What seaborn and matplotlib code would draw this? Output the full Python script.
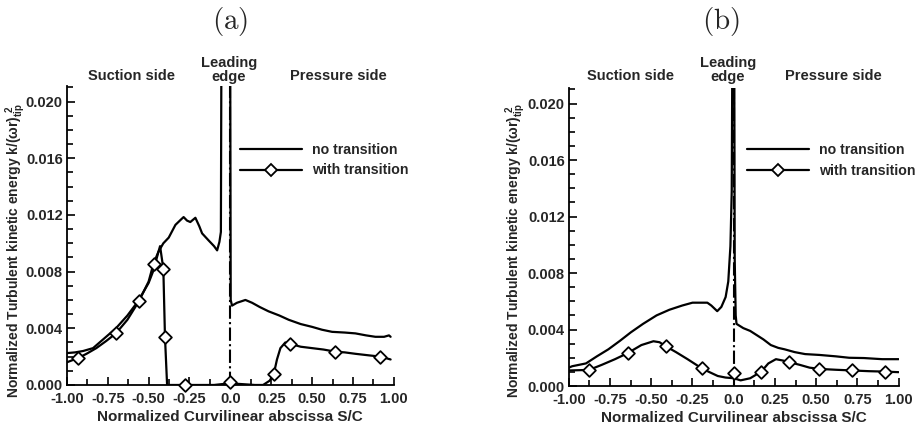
import pandas as pd
import matplotlib
matplotlib.use('Agg')
import matplotlib.pyplot as plt
import seaborn as sns
from matplotlib.lines import Line2D
from matplotlib.ticker import MultipleLocator, FormatStrFormatter

# ---- panel (a) ----
a_no_x = [-1.0, -0.95, -0.9, -0.84, -0.78, -0.70, -0.63, -0.565, -0.50, -0.47, -0.44, -0.41,
          -0.377, -0.336, -0.30, -0.286, -0.265, -0.245, -0.214, -0.19, -0.173, -0.133, -0.10,
          -0.081, -0.067, -0.058, -0.052, -0.003, 0.002, 0.01, 0.04, 0.092, 0.133, 0.18, 0.233,
          0.30, 0.357, 0.43, 0.5, 0.56, 0.622, 0.70, 0.765, 0.83, 0.887, 0.94, 0.97, 0.98]
a_no_y = [0.00225, 0.0023, 0.0024, 0.0026, 0.0032, 0.0040, 0.0049, 0.0059, 0.0072, 0.0081,
          0.0094, 0.0100, 0.0104, 0.0113, 0.0117, 0.01185, 0.0116, 0.0115, 0.0118, 0.0112,
          0.0107, 0.0102, 0.0098, 0.0095, 0.0101, 0.0108, 0.035, 0.035, 0.0060, 0.0056,
          0.0058, 0.0060, 0.0058, 0.0055, 0.0052, 0.0049, 0.0046, 0.0043, 0.0041, 0.0039,
          0.00375, 0.0037, 0.00364, 0.0035, 0.0034, 0.0034, 0.0035, 0.0034]

a_tr_x = [-1.0, -0.932, -0.88, -0.82, -0.76, -0.70, -0.63, -0.56, -0.50, -0.47, -0.44, -0.43,
          -0.42, -0.41, -0.40, -0.387, -0.275, -0.1, -0.02, 0.0, 0.02, 0.15, 0.2, 0.24, 0.265,
          0.285, 0.306, 0.336, 0.367, 0.43, 0.5, 0.57, 0.642, 0.70, 0.765, 0.84, 0.917, 0.95, 0.98]
a_tr_y = [0.00160, 0.0019, 0.0022, 0.0026, 0.0031, 0.00364, 0.0046, 0.0059, 0.0073, 0.00857,
          0.0094, 0.0098, 0.0090, 0.0082, 0.0034, 0.0, 0.0, 0.0, 0.0001, 0.0002, 0.0001, 0.0,
          0.0, 0.0003, 0.00075, 0.0018, 0.0026, 0.0030, 0.0029, 0.0027, 0.0026, 0.0025,
          0.00235, 0.0023, 0.0022, 0.0021, 0.0020, 0.0019, 0.0018]

a_mk_x = [-0.932, -0.70, -0.56, -0.47, -0.41, -0.40, -0.275, 0.0, 0.265, 0.367, 0.642, 0.917]
a_mk_y = [0.0019, 0.00364, 0.0059, 0.00857, 0.0082, 0.0034, 0.0, 0.0002, 0.00075, 0.0029,
          0.00235, 0.0020]

# ---- panel (b) ----
b_no_x = [-1.0, -0.98, -0.896, -0.83, -0.76, -0.69, -0.624, -0.55, -0.468, -0.39, -0.312,
          -0.25, -0.195, -0.16, -0.136, -0.10, -0.075, -0.049, -0.033, -0.02, -0.012, -0.006,
          0.002, 0.006, 0.012, 0.017, 0.058, 0.10, 0.14, 0.18, 0.225, 0.27, 0.308, 0.37,
          0.433, 0.52, 0.62, 0.70, 0.79, 0.9, 1.0]
b_no_y = [0.0013, 0.0014, 0.0016, 0.0021, 0.0026, 0.0032, 0.0038, 0.0044, 0.0050, 0.0054,
          0.0057, 0.0059, 0.0059, 0.0059, 0.0057, 0.0053, 0.0056, 0.0063, 0.0074, 0.0099,
          0.0138, 0.03, 0.03, 0.009, 0.0050, 0.0044, 0.0041, 0.0039, 0.0036, 0.0033, 0.0029,
          0.0027, 0.0026, 0.0024, 0.00226, 0.0022, 0.0021, 0.0020, 0.00198, 0.0019, 0.0019]

b_tr_x = [-1.0, -0.877, -0.80, -0.72, -0.643, -0.56, -0.487, -0.45, -0.41, -0.35, -0.28,
          -0.195, -0.15, -0.097, -0.05, 0.0, 0.042, 0.1, 0.167, 0.21, 0.256, 0.30, 0.333, 0.40,
          0.46, 0.52, 0.62, 0.72, 0.82, 0.917, 1.0]
b_tr_y = [0.0011, 0.00114, 0.0015, 0.0019, 0.00233, 0.0029, 0.00317, 0.0031, 0.0028, 0.0024,
          0.0019, 0.00126, 0.0010, 0.00071, 0.0006, 0.00055, 0.0004, 0.00055, 0.00102, 0.0016,
          0.0019, 0.0018, 0.0017, 0.0015, 0.0013, 0.00121, 0.00115, 0.0011, 0.00105, 0.00102,
          0.00098]

b_mk_x = [-0.877, -0.643, -0.41, -0.195, 0.0, 0.167, 0.333, 0.52, 0.72, 0.917]
b_mk_y = [0.00114, 0.00233, 0.0028, 0.00126, 0.0009, 0.00102, 0.0017, 0.00121, 0.0011, 0.00102]

xtick_vals = [-1.0, -0.75, -0.5, -0.25, 0.0, 0.25, 0.5, 0.75, 1.0]
xtick_labels = ['-1.00', '-0.75', '-0.50', '-0.25', '0.0', '0.25', '0.50', '0.75', '1.00']

sns.set_style('ticks')
plt.rcParams['font.family'] = ['Liberation Sans', 'DejaVu Sans']
plt.rcParams['font.weight'] = 'bold'
plt.rcParams['axes.labelweight'] = 'bold'
plt.rcParams['mathtext.fontset'] = 'custom'
plt.rcParams['mathtext.rm'] = 'Liberation Sans:bold'
plt.rcParams['mathtext.bf'] = 'Liberation Sans:bold'
plt.rcParams['axes.unicode_minus'] = False

fig = plt.figure(figsize=(9.16, 4.30), dpi=100)
ax_a = fig.add_axes([0.073, 0.1047, 0.357, 0.6953])
ax_b = fig.add_axes([0.621, 0.1023, 0.360, 0.6930])

panels = [
    (ax_a, a_no_x, a_no_y, a_tr_x, a_tr_y, a_mk_x, a_mk_y, '(a)', 0.2516,
     [0.199, 0.495, 0.829], 1.033, (0.529, 0.809), 0.0175),
    (ax_b, b_no_x, b_no_y, b_tr_x, b_tr_y, b_mk_x, b_mk_y, '(b)', 0.787,
     [0.188, 0.482, 0.803], 1.040, (0.540, 0.815), 0.5628),
]

for (ax, nx, ny, tx, ty, mx, my, title, tx_fig, lab_x, lab_y, leg_pos, ylab_x) in panels:
    df_no = pd.DataFrame({'s': nx, 'k': ny})
    df_tr = pd.DataFrame({'s': tx, 'k': ty})
    df_mk = pd.DataFrame({'s': mx, 'k': my})

    sns.lineplot(data=df_no, x='s', y='k', ax=ax, color='black', lw=1.6,
                 estimator=None, sort=False)
    sns.lineplot(data=df_tr, x='s', y='k', ax=ax, color='black', lw=1.6,
                 estimator=None, sort=False)
    sns.scatterplot(data=df_mk, x='s', y='k', ax=ax, marker='D', s=42,
                    facecolor='white', edgecolor='black', linewidth=1.3,
                    zorder=5, clip_on=False)
    ax.axvline(0.0, color='black', lw=1.5, ls='-.', zorder=3)

    ax.set_xlim(-1.0, 1.0)
    ax.set_ylim(0.0, 0.0211)
    ax.set_xticks(xtick_vals)
    ax.set_xticklabels(xtick_labels)
    ax.xaxis.set_minor_locator(MultipleLocator(0.125))
    ax.yaxis.set_major_locator(MultipleLocator(0.004))
    ax.yaxis.set_minor_locator(MultipleLocator(0.001))
    ax.yaxis.set_major_formatter(FormatStrFormatter('%.3f'))
    ax.tick_params(which='both', direction='in', width=1.2, labelsize=10.5, color='black')
    ax.tick_params(which='major', length=6)
    ax.tick_params(which='minor', length=4)
    ax.tick_params(axis='x', pad=5)
    ax.tick_params(axis='y', pad=3)
    for lab in ax.get_xticklabels() + ax.get_yticklabels():
        lab.set_fontweight('bold')
    sns.despine(ax=ax)
    for sp in ['left', 'bottom']:
        ax.spines[sp].set_linewidth(1.3)
        ax.spines[sp].set_color('black')

    ax.set_xlabel('Normalized Curvilinear abscissa S/C', fontsize=11,
                  fontweight='bold', labelpad=3)
    ax.set_ylabel('')
    fig.text(ylab_x, 0.418,
             'Normalized Turbulent kinetic energy k/(\u03c9r)$_{\\mathbf{tip}}^{\\ \\mathbf{2}}$',
             rotation=90, ha='center', va='center', fontsize=10, fontweight='bold')

    fig.text(tx_fig, 0.949, '$\\mathrm{(' + title[1] + ')}$', ha='center', va='center',
             fontsize=21, math_fontfamily='cm')

    ax.text(lab_x[0], lab_y, 'Suction side', transform=ax.transAxes, ha='center',
            va='center', fontsize=10.5, fontweight='bold')
    ax.text(lab_x[1], lab_y + 0.021, 'Leading\nedge', transform=ax.transAxes, ha='center',
            va='center', fontsize=10.5, fontweight='bold', linespacing=0.95)
    ax.text(lab_x[2], lab_y, 'Pressure side', transform=ax.transAxes, ha='center',
            va='center', fontsize=10.5, fontweight='bold')

    handles = [
        Line2D([], [], color='black', lw=1.6),
        Line2D([], [], color='black', lw=1.6, marker='D', markersize=6.5,
               markerfacecolor='white', markeredgecolor='black', markeredgewidth=1.3),
    ]
    ax.legend(handles, ['no transition', 'with transition'], loc='upper left',
              bbox_to_anchor=leg_pos, frameon=False, borderpad=0, borderaxespad=0,
              handlelength=4.4, handletextpad=0.7, labelspacing=0.45,
              prop={'weight': 'bold', 'size': 10.2})

fig.savefig('out.png', dpi=100)
